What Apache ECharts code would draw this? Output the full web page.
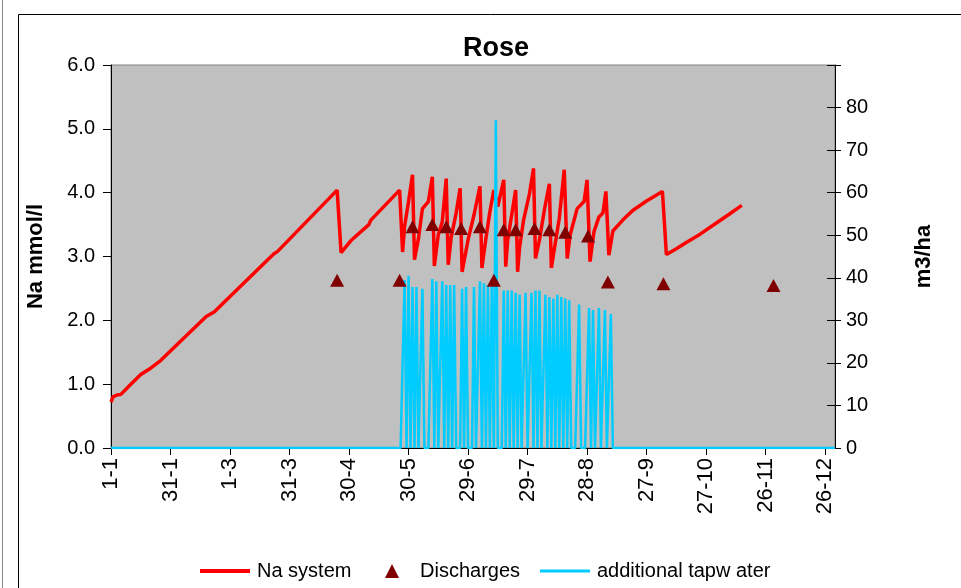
<!DOCTYPE html>
<html><head><meta charset="utf-8">
<script src="https://cdn.jsdelivr.net/npm/echarts@6/dist/echarts.min.js"></script>
<style>html,body{margin:0;padding:0;background:#fff}#c{width:961px;height:588px}</style>
</head><body><div id="c"></div>
<script>
// x tick labels (every 30 days, leap year starting 1-1)
const xTickLabels = ['1-1','31-1','1-3','31-3','30-4','30-5','29-6','29-7','28-8','27-9','27-10','26-11','26-12'];
const leftTicks = [0,1,2,3,4,5,6];
const rightTicks = [0,10,20,30,40,50,60,70,80];

// Na system (mmol/l): day of year and value at line vertices
const naDays = [0,1,3,5,10,11,15,20,25,34,48,52,82,84,114,116,121,130,131,145.5,
  147,148,150,152,153,155,157,160,162,163,165,167,169,170,171.5,174,176,177,180,183,186,187,189,191,193,
  195,196,198,199,200,202,204,205,206,208,211,213,214,216,218.5,221,222,224,226,228.5,230,231.5,235,238.5,240,241.5,
  243.5,246,248,249.5,251,253,258,263,270,278,280,285,290,297,305,312,318];
const naValues = [0.72,0.8,0.83,0.84,1.0,1.02,1.15,1.25,1.37,1.64,2.06,2.13,3.04,3.08,4.04,3.06,3.25,3.5,3.57,4.04,
  3.07,3.47,3.86,4.28,2.95,3.28,3.75,3.86,4.25,2.85,3.34,3.54,4.22,2.87,3.3,3.68,4.07,2.76,3.26,3.65,4.1,2.82,3.28,3.7,4.04,
  3.78,3.81,4.2,2.84,3.26,3.65,4.04,2.76,3.15,3.57,3.99,4.38,2.97,3.26,3.73,4.14,2.82,3.21,3.6,4.36,2.97,3.34,3.75,3.86,4.2,2.92,
  3.39,3.62,3.68,4.02,3.02,3.4,3.57,3.72,3.87,4.02,3.03,3.12,3.22,3.35,3.52,3.67,3.8];

// Discharges (m3/ha)
const dischargeDays = [114,145.5,152,162,169,176.5,186,193,198,204,213.5,221,229,240.5,250.5,278.5,334];
const dischargeValues = [39.4,39.4,52.0,52.5,52.0,51.6,52.0,39.4,51.3,51.3,51.6,51.3,50.7,49.8,39.0,38.6,38.2];

// additional tapwater (m3/ha): days with a gift, all other days 0
const tapDays = [148,150,152,154,157,162,164,167,169,171,173,177,179,183,186,188,190,192,194,
  198,200,202,204,206,209,212,214,216,219,221,223,225,227,229,231,236,241,243,246,249,252];
const tapValues = [39.5,40.5,37.8,37.8,37.4,39.7,39.2,39.2,38.3,38.3,38.3,37.4,37.8,37.8,39.2,38.7,38.3,38.7,77,
  37,37,37,36.5,36,36.5,36.5,37,37,36,35.5,35.1,36,35.5,35.1,34.7,33.7,32.9,32.4,32.9,32.4,31.5];
const yearDays = 366;

const naData = naDays.map((d,i)=>[d, naValues[i]]);
const disData = dischargeDays.map((d,i)=>[d, dischargeValues[i]]);
const tapData = [];
for (let d=0; d<yearDays; d++) {
  const k = tapDays.indexOf(d);
  tapData.push([d, k>=0 ? tapValues[k] : 0]);
}

const FONT = "'Liberation Sans', Arial, sans-serif";
const chart = echarts.init(document.getElementById('c'), null, {renderer:'canvas'});
chart.setOption({
  animation:false,
  backgroundColor:'#ffffff',
  textStyle:{fontFamily:FONT},
  title:{text:'Rose', left:491, top:30, textAlign:'center',
    textStyle:{fontFamily:FONT, fontSize:27, fontWeight:'bold', color:'#000'}},
  graphic:[
    {type:'rect', shape:{x:18.5,y:14.5,width:1000,height:1000}, style:{fill:null, stroke:'#000', lineWidth:1}, silent:true},
    {type:'line', shape:{x1:2.5,y1:0,x2:2.5,y2:588}, style:{stroke:'#888', lineWidth:1}, silent:true}
  ],
  grid:{left:111, right:126, top:65, bottom:140, show:true, backgroundColor:'#C0C0C0', borderColor:'#808080', borderWidth:1},
  legend:[
    {data:[{name:'Na system', icon:'rect'}], left:200, top:561, padding:0, itemWidth:50, itemHeight:4,
      textStyle:{fontFamily:FONT, fontSize:20, color:'#000', padding:[0,0,0,2]}},
    {data:[{name:'Discharges', icon:'triangle'}], left:385, top:561, padding:0, itemWidth:14, itemHeight:14,
      textStyle:{fontFamily:FONT, fontSize:20, color:'#000', padding:[0,0,0,16]}},
    {data:[{name:'additional tapw ater', icon:'rect'}], left:540, top:561, padding:0, itemWidth:50, itemHeight:3,
      textStyle:{fontFamily:FONT, fontSize:20, color:'#000', padding:[0,0,0,2]}}
  ],
  xAxis:{type:'value', min:0, max:365, interval:30,
    axisLine:{show:true, onZero:false, lineStyle:{color:'#000', width:1}},
    axisTick:{show:true, length:7, lineStyle:{color:'#000'}},
    splitLine:{show:false},
    axisLabel:{rotate:90, fontFamily:FONT, fontSize:22, color:'#000', margin:10, showMaxLabel:false,
      formatter:v=>{ const i=v/30; return Number.isInteger(i)&&xTickLabels[i]!==undefined ? xTickLabels[i] : ''; }}
  },
  yAxis:[
    {type:'value', min:leftTicks[0], max:leftTicks[leftTicks.length-1], interval:1, position:'left',
      name:'Na mmol/l', nameLocation:'middle', nameRotate:90, nameGap:64,
      nameTextStyle:{fontFamily:FONT, fontSize:22, fontWeight:'bold', color:'#000'},
      axisLine:{show:true, lineStyle:{color:'#000', width:1}},
      axisTick:{show:true, length:8, lineStyle:{color:'#000'}},
      splitLine:{show:false},
      axisLabel:{fontFamily:FONT, fontSize:20, color:'#000', margin:16, formatter:v=>v.toFixed(1)}
    },
    {type:'value', min:0, max:90, interval:10, position:'right',
      name:'m3/ha', nameLocation:'middle', nameRotate:90, nameGap:78,
      nameTextStyle:{fontFamily:FONT, fontSize:22, fontWeight:'bold', color:'#000'},
      axisLine:{show:true, lineStyle:{color:'#000', width:1}},
      axisTick:{show:true, length:6, lineStyle:{color:'#000'}},
      splitLine:{show:false},
      axisLabel:{fontFamily:FONT, fontSize:20, color:'#000', margin:11,
        formatter:v=> rightTicks.indexOf(v)>=0 ? String(v) : ''}
    },
    {type:'value', min:0, max:90, interval:10, position:'right',
      axisLine:{show:false}, axisTick:{show:true, inside:true, length:8, lineStyle:{color:'#000'}},
      splitLine:{show:false}, axisLabel:{show:false}
    }
  ],
  series:[
    {name:'Na system', type:'line', yAxisIndex:0, data:naData, symbol:'none', z:2,
      lineStyle:{color:'#FF0000', width:3.5}, itemStyle:{color:'#FF0000'}},
    {name:'Discharges', type:'scatter', yAxisIndex:1, data:disData, symbol:'triangle', symbolSize:[14,13], z:5,
      itemStyle:{color:'#800000', opacity:1}},
    {name:'additional tapw ater', type:'line', yAxisIndex:1, data:tapData, symbol:'none', z:3,
      lineStyle:{color:'#00CCFF', width:2.5}, itemStyle:{color:'#00CCFF'}}
  ]
});
</script></body></html>
